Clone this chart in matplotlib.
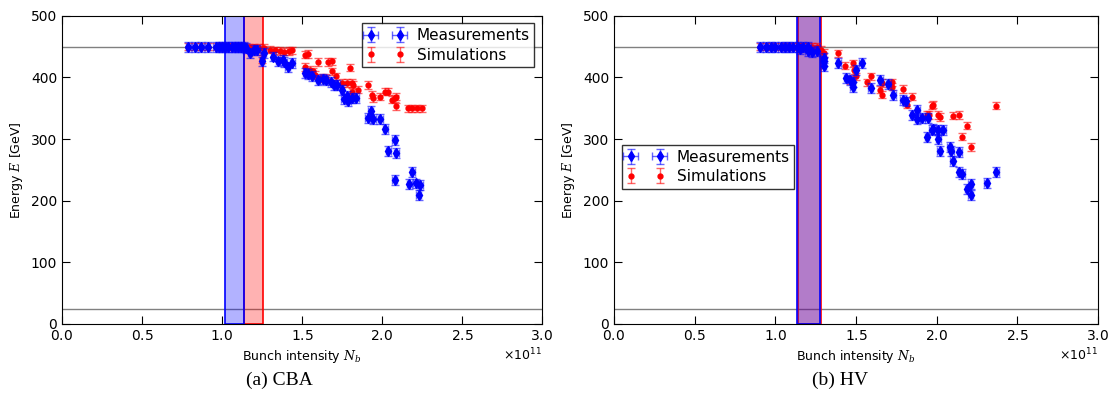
import matplotlib.pyplot as plt
from matplotlib.ticker import ScalarFormatter
import numpy as np

# CBA: measurements (bunch intensity in 1e11, energy in GeV)
cba_meas_x = [0.79, 0.83, 0.87, 0.91, 0.96, 0.98, 1.00, 1.02, 1.04, 1.06, 1.08, 1.10, 1.12, 1.14,
              1.15, 1.175, 1.20, 1.22, 1.25, 1.26, 1.32, 1.35, 1.38, 1.39, 1.41, 1.44, 1.52, 1.54,
              1.56, 1.60, 1.63, 1.65, 1.68, 1.70, 1.72, 1.75, 1.76, 1.78, 1.79, 1.81, 1.84, 1.91,
              1.93, 1.945, 1.99, 2.02, 2.04, 2.08, 2.08, 2.09, 2.17, 2.19, 2.21, 2.23, 2.24]
cba_meas_y = [450, 450, 450, 450, 450, 450, 450, 450, 450, 450, 450, 449, 450, 449,
              448, 439, 445, 444, 426, 440, 434, 426, 428, 425, 417, 423, 407, 405,
              402, 396, 398, 396, 392, 388, 388, 380, 365, 370, 361, 366, 366, 334,
              345, 332, 332, 316, 280, 299, 234, 277, 227, 247, 228, 209, 226]

# CBA: simulations
cba_sim_x = [0.79, 0.83, 0.87, 0.91, 0.96, 0.98, 1.00, 1.02, 1.05, 1.08, 1.11, 1.14, 1.17, 1.20,
             1.23, 1.26, 1.25, 1.30, 1.33, 1.36, 1.39, 1.42, 1.44, 1.52, 1.54, 1.60, 1.66, 1.69,
             1.80, 1.52, 1.57, 1.58, 1.55, 1.62, 1.65, 1.69, 1.71, 1.75, 1.78, 1.81, 1.82, 1.81,
             1.85, 1.915, 1.935, 1.945, 1.99, 2.02, 2.04, 2.06, 2.08, 2.09, 2.09, 2.16, 2.19,
             2.22, 2.25]
cba_sim_y = [450, 450, 450, 450, 450, 450, 450, 450, 450, 450, 450, 450, 449, 449,
             448, 448, 430, 445, 444, 443, 442, 443, 444, 437, 438, 425, 425, 426,
             416, 417, 410, 404, 412, 399, 399, 410, 402, 391, 391, 391, 388, 377,
             380, 388, 372, 366, 369, 377, 377, 364, 366, 369, 353, 350, 350,
             350, 350]

# HV: measurements
hv_meas_x = [0.905, 0.94, 0.971, 1.00, 1.033, 1.06, 1.087, 1.112, 1.143, 1.174, 1.205,
             1.15, 1.20, 1.226, 1.257, 1.30, 1.30, 1.30, 1.39, 1.44, 1.46, 1.48, 1.48, 1.50,
             1.535, 1.59, 1.65, 1.70, 1.73, 1.79, 1.81, 1.85, 1.88, 1.88, 1.91, 1.945, 1.97,
             1.94, 1.98, 2.01, 2.04, 2.01, 2.02, 2.08, 2.09, 2.14, 2.10, 2.14, 2.16, 2.19,
             2.21, 2.21, 2.31, 2.37]
hv_meas_y = [450, 450, 450, 450, 450, 450, 450, 450, 450, 450, 450,
             446, 443, 442, 443, 431, 426, 418, 423, 399, 396, 393, 385, 412,
             424, 383, 396, 390, 372, 364, 361, 339, 347, 332, 334, 334, 315,
             303, 316, 315, 315, 300, 280, 287, 280, 279, 265, 247, 244, 219,
             227, 209, 229, 246]

# HV: simulations
hv_sim_x = [0.905, 0.94, 0.971, 1.00, 1.033, 1.06, 1.087, 1.112, 1.143, 1.174, 1.205, 1.23,
            1.257, 1.28, 1.30, 1.39, 1.43, 1.48, 1.49, 1.50, 1.46, 1.59, 1.57, 1.66, 1.72,
            1.725, 1.65, 1.66, 1.79, 1.845, 1.815, 1.95, 1.94, 1.97, 1.98, 2.01, 2.02, 2.10,
            2.14, 2.19, 2.16, 2.21, 2.37]
hv_sim_y = [450, 450, 450, 450, 450, 450, 450, 450, 450, 450, 450, 450,
            450, 445, 440, 439, 419, 423, 412, 402, 396, 402, 392, 391, 392,
            385, 380, 372, 381, 369, 356, 339, 339, 354, 356, 339, 336, 338,
            339, 322, 304, 287, 354]

# bands (1e11)
cba_meas_band = (1.02, 1.135)
cba_sim_band = (1.135, 1.255)
hv_meas_band = (1.135, 1.275)
hv_sim_band = (1.14, 1.285)

plt.rcParams['font.family'] = 'DejaVu Sans'
plt.rcParams['mathtext.fontset'] = 'dejavuserif'
plt.rcParams['xtick.direction'] = 'in'
plt.rcParams['ytick.direction'] = 'in'
plt.rcParams['xtick.top'] = True
plt.rcParams['ytick.right'] = True

fig = plt.figure(figsize=(11.17, 3.96), dpi=100)
ax1 = fig.add_axes([0.0555, 0.182, 0.4297, 0.778])
ax2 = fig.add_axes([0.5497, 0.182, 0.4333, 0.778])


def draw(ax, mx, my, sx, sy, mband, sband, legend_kw):
    ax.axhline(450, color='gray', lw=1, zorder=1)
    ax.axhline(25, color='gray', lw=1, zorder=1)
    # red band first, blue on top -> purple where they overlap
    ax.axvspan(sband[0] * 1e11, sband[1] * 1e11, facecolor=(1, 0, 0, 0.3),
               edgecolor='red', lw=1.2, zorder=2)
    ax.axvspan(mband[0] * 1e11, mband[1] * 1e11, facecolor=(0, 0, 1, 0.3),
               edgecolor='blue', lw=1.2, zorder=2)
    mx = np.array(mx) * 1e11
    sx = np.array(sx) * 1e11
    em = ax.errorbar(mx, my, xerr=0.015e11, yerr=8, fmt='d', color='blue', ms=5.5,
                     mec='blue', capsize=3, elinewidth=1, label='Measurements', zorder=4)
    es = ax.errorbar(sx, sy, yerr=6, fmt='o', color='red', ms=3.5, mec='red',
                     capsize=3, elinewidth=1, label='Simulations', zorder=3)
    for cont in (em, es):
        for ln in cont[1]:
            ln.set_alpha(0.6)
        for lc in cont[2]:
            lc.set_alpha(0.6)
    ax.set_xlim(0, 3e11)
    ax.set_ylim(0, 500)
    ax.set_xticks(np.arange(0, 3.01, 0.5) * 1e11)
    ax.set_yticks(range(0, 501, 100))
    fmt = ScalarFormatter(useMathText=True)
    fmt.set_powerlimits((0, 0))
    ax.xaxis.set_major_formatter(fmt)
    ax.xaxis.get_offset_text().set_fontsize(9)
    ax.tick_params(labelsize=10, length=6)
    ax.set_xlabel('Bunch intensity $N_b$', fontsize=9)
    ax.set_ylabel('Energy $E$ [GeV]', fontsize=9)
    leg = ax.legend(numpoints=2, fontsize=11, fancybox=False, handlelength=2.5,
                    borderpad=0.3, labelspacing=0.3, **legend_kw)
    leg.get_frame().set_edgecolor('black')
    leg.get_frame().set_linewidth(1)


draw(ax1, cba_meas_x, cba_meas_y, cba_sim_x, cba_sim_y, cba_meas_band, cba_sim_band,
     dict(loc='upper right'))
draw(ax2, hv_meas_x, hv_meas_y, hv_sim_x, hv_sim_y, hv_meas_band, hv_sim_band,
     dict(loc='center left', bbox_to_anchor=(0.0, 0.51)))

fig.text(0.25, 0.04, '(a) CBA', family='Liberation Serif', fontsize=14, ha='center', va='center')
fig.text(0.752, 0.04, '(b) HV', family='Liberation Serif', fontsize=14, ha='center', va='center')

fig.savefig('out.png', dpi=100, facecolor='white')
